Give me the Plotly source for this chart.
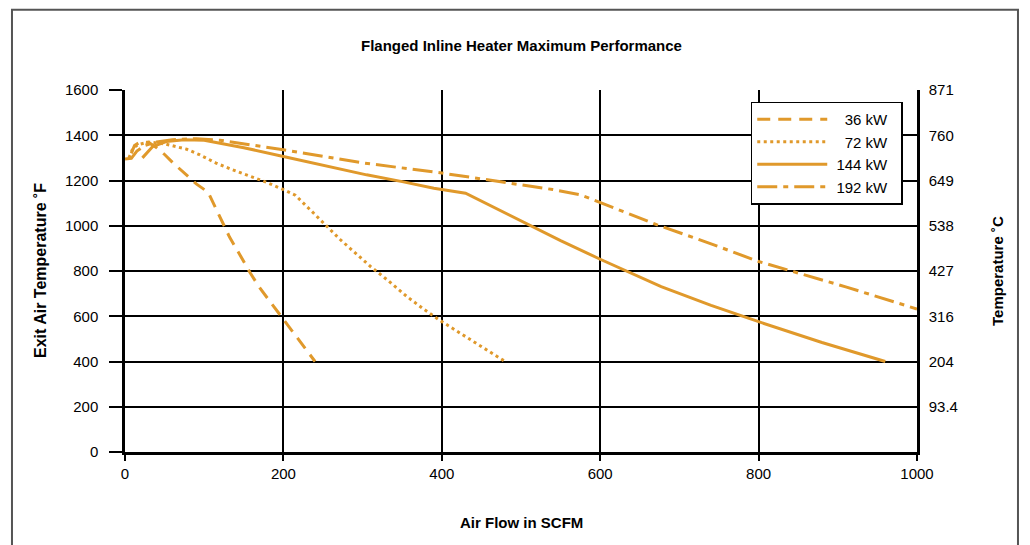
import plotly.graph_objects as go

# ---- data ----
kw36_x = [8, 12, 20, 30, 40, 50, 60, 70, 80, 90, 105, 120, 132, 145, 158, 170, 189, 198, 215, 240]
kw36_y = [1320, 1355, 1372, 1368, 1345, 1315, 1280, 1248, 1215, 1185, 1148, 1040, 950, 872, 792, 726, 637, 599, 518, 400]

kw72_x = [5, 10, 16, 30, 50, 65, 78, 94, 115, 136, 158, 180, 200, 215, 236, 253, 272, 291, 310, 331, 356, 377, 398, 426, 453, 480]
kw72_y = [1300, 1343, 1358, 1370, 1362, 1350, 1338, 1314, 1277, 1247, 1218, 1190, 1160, 1135, 1063, 1004, 938, 879, 820, 761, 687, 632, 581, 519, 460, 400]

kw144_x = [22, 35, 52, 75, 100, 150, 200, 250, 305, 350, 390, 430, 465, 500, 550, 600, 677, 740, 800, 880, 960]
kw144_y = [1300, 1350, 1372, 1380, 1378, 1345, 1306, 1267, 1225, 1195, 1166, 1144, 1083, 1022, 934, 852, 731, 648, 576, 484, 400]

kw192_x = [0, 8, 15, 25, 40, 60, 90, 120, 200, 300, 400, 490, 540, 575, 600, 672, 740, 800, 910, 1000]
kw192_y = [1295, 1298, 1330, 1355, 1370, 1380, 1385, 1378, 1336, 1278, 1233, 1185, 1160, 1137, 1103, 1004, 920, 842, 730, 632]

series_names = ["36 kW", "72 kW", "144 kW", "192 kW"]

f_ticks = [0, 200, 400, 600, 800, 1000, 1200, 1400, 1600]
c_tickvals = [200, 400, 600, 800, 1000, 1200, 1400, 1600]
c_ticktext = ["93.4", "204", "316", "427", "538", "649", "760", "871"]
x_ticks = [0, 200, 400, 600, 800, 1000]

COLOR = "#E0992B"
FONT = "Liberation Sans, Arial, Helvetica, sans-serif"
NB = "\u00a0"


def legend_label(name):
    # pad short labels so the legend text lines up on the right
    pad = NB * (2 * (6 - len(name)) + 1)
    return pad + name + NB * 2


fig = go.Figure()
styles = [
    (kw36_x, kw36_y, "13px,8px"),
    (kw72_x, kw72_y, "3px,3.5px"),
    (kw144_x, kw144_y, "solid"),
    (kw192_x, kw192_y, "20px,6px,5px,6px"),
]
for (xs, ys, dash), name in zip(styles, series_names):
    fig.add_trace(go.Scatter(x=xs, y=ys, mode="lines", name=legend_label(name),
                             line=dict(color=COLOR, width=3, dash=dash)))

# invisible trace to anchor the Celsius axis
fig.add_trace(go.Scatter(x=[0, 1000], y=[0, 1600], yaxis="y2", mode="lines",
                         line=dict(width=0), opacity=0, showlegend=False,
                         hoverinfo="skip"))

fig.update_layout(
    width=1030, height=545,
    margin=dict(l=117, r=121, t=82, b=101),
    paper_bgcolor="white", plot_bgcolor="white",
    font=dict(family=FONT, size=15, color="black"),
    showlegend=True,
    legend=dict(x=0.982, xanchor="right", y=0.968, yanchor="top",
                bgcolor="white", bordercolor="black", borderwidth=1.5,
                font=dict(size=15), itemwidth=70, traceorder="normal"),
    xaxis=dict(range=[0, 1000], tickvals=x_ticks, showgrid=True,
               gridcolor="black", gridwidth=2, showline=True,
               linecolor="black", linewidth=2.5, ticks="outside",
               ticklen=6, tickwidth=2, tickcolor="black", zeroline=False,
               tickfont=dict(size=15)),
    yaxis=dict(range=[0, 1600], tickvals=f_ticks, showgrid=True,
               gridcolor="black", gridwidth=2, showline=True,
               linecolor="black", linewidth=2.5, ticks="outside",
               ticklen=13, tickwidth=2, tickcolor="black", zeroline=False,
               ticklabelstandoff=8, tickfont=dict(size=15)),
    yaxis2=dict(range=[0, 1600], overlaying="y", side="right",
                tickvals=c_tickvals, ticktext=c_ticktext, showgrid=False,
                showline=True, linecolor="black", linewidth=2.5,
                ticks="", zeroline=False, ticklabelstandoff=6,
                tickfont=dict(size=15)),
    annotations=[
        dict(text="<b>Flanged Inline Heater Maximum Performance</b>",
             xref="paper", yref="paper", x=0.5, y=1.122, xanchor="center",
             yanchor="middle", showarrow=False, font=dict(size=15)),
        dict(text="<b>Air Flow in SCFM</b>", xref="paper", yref="paper",
             x=0.5, y=-0.1956, xanchor="center", yanchor="middle",
             showarrow=False, font=dict(size=15)),
        dict(text="<b>Exit Air Temperature ˚F</b>", xref="paper", yref="paper",
             x=-0.1073, y=0.5, xanchor="center", yanchor="middle",
             textangle=-90, showarrow=False, font=dict(size=16)),
        dict(text="<b>Temperature ˚C</b>", xref="paper", yref="paper",
             x=1.101, y=0.5, xanchor="center", yanchor="middle",
             textangle=-90, showarrow=False, font=dict(size=15)),
    ],
    shapes=[
        dict(type="rect", xref="paper", yref="paper",
             x0=-0.1427, x1=1.1275, y0=-0.35, y1=1.2215,
             line=dict(color="#555555", width=2), layer="below"),
    ],
)

fig.write_html("out.html")
